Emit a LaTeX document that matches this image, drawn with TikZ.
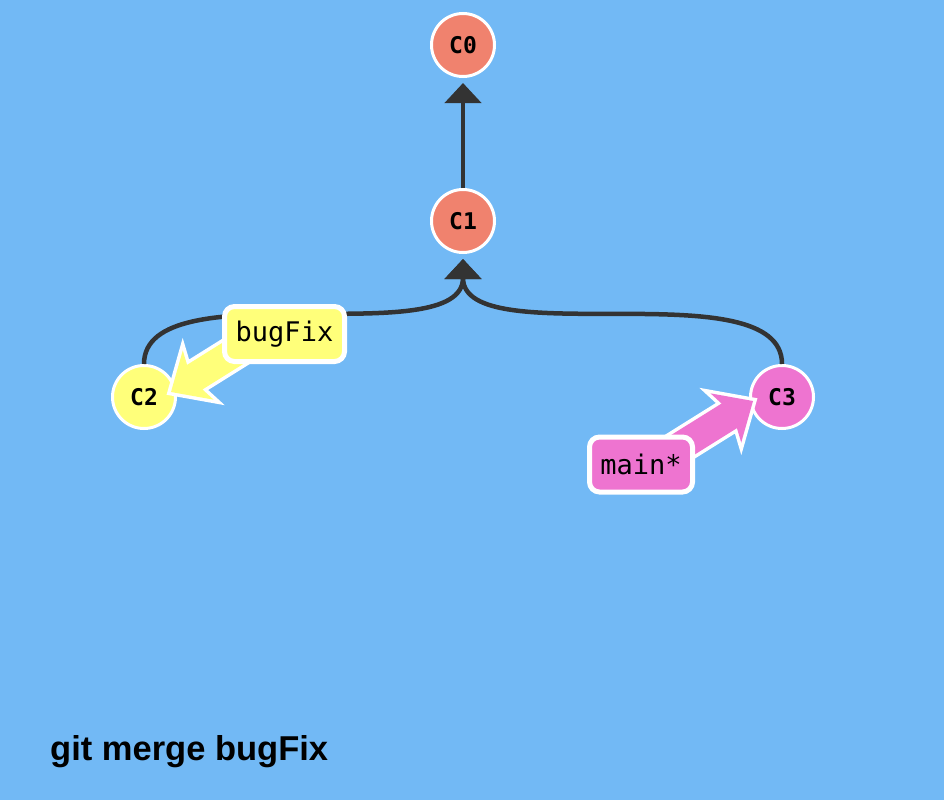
\documentclass[tikz,border=0pt]{standalone}
\usepackage{fontspec}
\setmainfont{Liberation Sans}
\newfontfamily\monofont{DejaVu Sans Mono}
\usetikzlibrary{arrows.meta,calc}
\definecolor{bgc}{RGB}{114,185,245}
\definecolor{salmonc}{RGB}{240,130,110}
\definecolor{yellowc}{RGB}{255,255,122}
\definecolor{pinkc}{RGB}{238,116,208}
\definecolor{edgec}{RGB}{51,51,51}
\tikzset{
  commit/.style={circle, draw=white, line width=3pt, minimum size=63pt, inner sep=0pt,
    font=\monofont\bfseries\fontsize{23}{23}\selectfont},
  branchbox/.style={rectangle, rounded corners=10pt, draw=white, line width=5pt,
    minimum height=55pt, inner sep=0pt, font=\monofont\fontsize{27}{27}\selectfont},
  edge/.style={draw=edgec, line width=4.5pt, -{Triangle[width=36pt,length=20pt]}},
  brarrow/.style={preaction={draw=white, line width=7pt, line join=miter}},
}
\begin{document}
\begin{tikzpicture}[x=1pt,y=-1pt]
\fill[bgc] (0,0) rectangle (944,800);
\useasboundingbox (0,0) rectangle (944,800);
% commits
\node[commit, fill=salmonc] (C0) at (463,45) {C0};
\node[commit, fill=salmonc] (C1) at (463,221) {C1};
\node[commit, fill=yellowc] (C2) at (144,397) {C2};
\node[commit, fill=pinkc] (C3) at (782,397) {C3};
% edges
\draw[edge] (C1.north) -- ($(C0.south)+(0,5)$);
\draw[edge] (C2.north) .. controls +(0,-95) and +(0,95) .. ($(C1.south)+(0,5)$);
\draw[edge] (C3.north) .. controls +(0,-95) and +(0,95) .. ($(C1.south)+(0,5)$);
% branch arrows
\coordinate (ytip) at ($(C2)+(27,-5)$);
\coordinate (ptip) at ($(C3)+(-29,4)$);
\begin{scope}[shift={(ytip)}, rotate=212]
\path[brarrow, fill=yellowc] (0,0) -- (-32,29) -- (-28,14.5) -- (-130,14.5) -- (-130,-14.5) -- (-28,-14.5) -- (-32,-29) -- cycle;
\end{scope}
\begin{scope}[shift={(ptip)}, rotate=32]
\path[brarrow, fill=pinkc] (0,0) -- (-32,29) -- (-28,14.5) -- (-130,14.5) -- (-130,-14.5) -- (-28,-14.5) -- (-32,-29) -- cycle;
\end{scope}
% branch labels
\node[branchbox, fill=yellowc, minimum width=120pt] (bugfix) at (284.5,334) {bugFix};
\node[branchbox, fill=pinkc, minimum width=103pt] (mainlbl) at (641,464.5) {main*};
% title
\node[anchor=base west, inner sep=0pt, font=\bfseries\fontsize{34.5}{34.5}\selectfont] (title) at (50,760) {git merge bugFix};
\end{tikzpicture}
\end{document}
